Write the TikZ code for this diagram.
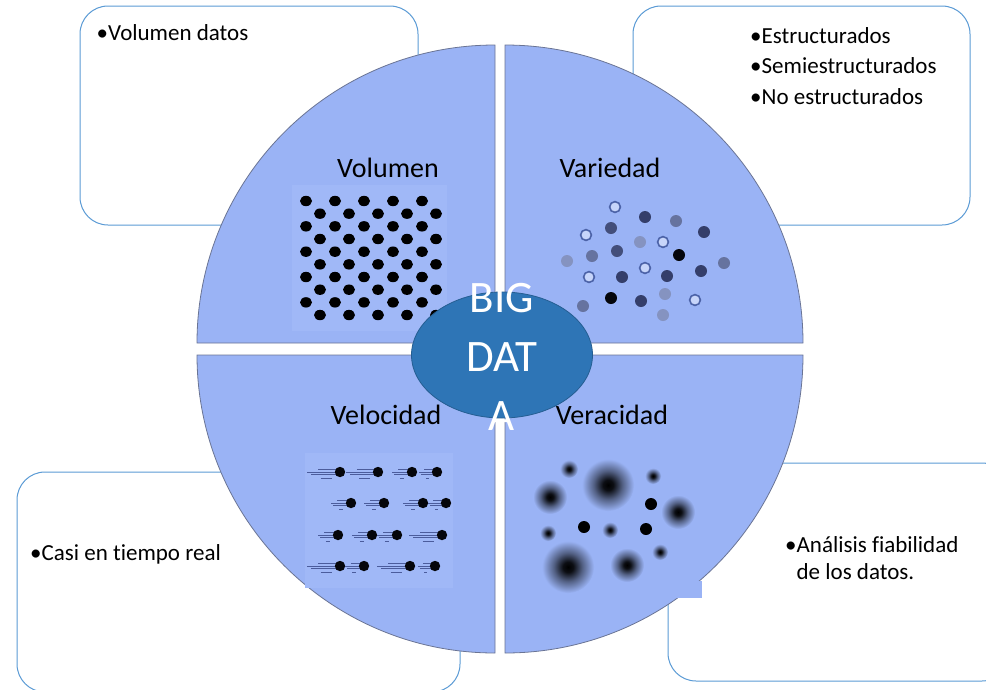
\documentclass[tikz,border=0pt]{standalone}
\usepackage{fontspec}
\setmainfont{Carlito}[Ligatures=NoCommon]
\usetikzlibrary{shapes.geometric,positioning}
\definecolor{quadblue}{HTML}{9AB3F5}
\definecolor{patchblue}{HTML}{A0B8F7}
\definecolor{boxline}{HTML}{5B9BD5}
\definecolor{quadline}{HTML}{6A7494}
\definecolor{bigblue}{HTML}{2E75B6}
\definecolor{ringblue}{HTML}{4C63A8}
\definecolor{darkdot}{HTML}{343E6A}
\definecolor{graydot}{HTML}{66739F}
\definecolor{lightdot}{HTML}{8593C0}
\definecolor{trailblue}{HTML}{4B5C9C}
\pgfdeclareradialshading{blurdot}{\pgfpoint{0bp}{0bp}}{color(0bp)=(black); color(5bp)=(black!92!quadblue); color(14bp)=(black!45!quadblue); color(25bp)=(quadblue); color(50bp)=(quadblue)}

\begin{document}
\begin{tikzpicture}[x=1pt, y=-1pt]
  \tikzset{
    mybox/.style={rectangle, rounded corners=28pt, draw=boxline, fill=white, line width=1pt},
    myquad/.style={fill=quadblue, draw=quadline, line width=0.8pt},
    mylabel/.style={font=\fontsize{28}{34}\selectfont, anchor=base, inner sep=0pt},
    mytext/.style={font=\fontsize{23}{27}\selectfont, anchor=base west, inner sep=0pt},
    ringdot/.style={draw=ringblue, fill=quadblue!55!white, line width=1.6pt},
    mytrail/.style={draw=trailblue, line width=0.8pt}
  }
  \useasboundingbox (0,0) rectangle (986,689);

  % text boxes behind the circle
  \node[mybox, minimum width=338pt, minimum height=219pt] (volbox) at (249,115.5) {};
  \node[mybox, minimum width=337pt, minimum height=219pt] (varbox) at (801.5,115.5) {};
  \node[mybox, minimum width=443pt, minimum height=220pt] (velbox) at (238.5,582) {};
  \node[mybox, minimum width=342pt, minimum height=218pt] (verbox) at (839,572) {};

  \node[mytext] (voltxt) at ([xshift=17pt, yshift=-35pt]volbox.north west) {•Volumen datos};
  \node[mytext] (vartxt1) at (750,43) {•Estructurados};
  \node[mytext] (vartxt2) at ([yshift=-30.5pt]vartxt1.base west) {•Semiestructurados};
  \node[mytext] (vartxt3) at ([yshift=-30.5pt]vartxt2.base west) {•No estructurados};
  \node[mytext] (veltxt) at (30,560) {•Casi en tiempo real};
  \node[mytext] (vertxt1) at (785,552) {•Análisis fiabilidad};
  \node[mytext] (vertxt2) at ([yshift=-27pt]vertxt1.base west) {\phantom{•}de los datos.};

  % four quarters
  \draw[myquad] (495,343) -- ++(-298,0) arc[start angle=180, end angle=270, radius=298] -- cycle;
  \draw[myquad] (505,343) -- ++(298,0) arc[start angle=0, end angle=-90, radius=298] -- cycle;
  \draw[myquad] (495,355) -- ++(-298,0) arc[start angle=180, end angle=90, radius=298] -- cycle;
  \draw[myquad] (505,355) -- ++(298,0) arc[start angle=0, end angle=90, radius=298] -- cycle;
  \fill[quadblue] (650,581) rectangle (702,598);

  % volumen
  \fill[patchblue] (292,185) rectangle (447,331);
  \foreach \r in {0,...,9} {
    \pgfmathsetmacro\yy{201+12.67*\r}
    \pgfmathsetmacro\xx{306+14*mod(\r,2)}
    \foreach \c in {0,...,4}
      \fill (\xx+29*\c,\yy) ellipse[x radius=6, y radius=5.2];
  }

  % variedad
  \foreach \x/\y in {615/207, 586/235, 663/242, 645/268, 589/277, 695/300}
    \draw[ringdot] (\x,\y) circle (5.4);
  \foreach \x/\y in {645/217, 704/232, 667/276, 701/271, 622/277, 641/301}
    \fill[darkdot] (\x,\y) circle (6);
  \foreach \x/\y in {611/228, 617/251}
    \fill[darkdot!70!graydot] (\x,\y) circle (6);
  \foreach \x/\y in {679/255, 611/298}
    \fill[black!90!darkdot] (\x,\y) circle (6);
  \foreach \x/\y in {676/221, 592/256, 724/263, 583/306}
    \fill[graydot] (\x,\y) circle (6);
  \foreach \x/\y in {640/242, 567/261, 665/294, 663/315}
    \fill[lightdot] (\x,\y) circle (6);

  % velocidad
  \fill[patchblue] (305,453) rectangle (453,588);
  \foreach \x/\y/\l in {340/472/28, 378/472/27, 412/472/15, 437/472/13,
                        351/503/15, 384/503/15, 423/503/15, 446/503/13,
                        338/535/15, 372/535/15, 397/535/15, 442/535/28,
                        340/566/28, 364/566/14, 410/566/28, 435/566/12} {
    \draw[mytrail] (\x-5-\l,\y) -- (\x-4,\y);
    \draw[mytrail] (\x-5-0.6*\l,\y-2.6) -- (\x-4,\y-2.6);
    \draw[mytrail] (\x-5-0.85*\l,\y+2.6) -- (\x-4,\y+2.6);
    \draw[mytrail, line width=0.5pt] (\x-4-0.55*\l,\y+6) -- (\x-8,\y+6);
    \fill[black!90!darkdot] (\x,\y) circle (5.2);
  }

  % veracidad
  \foreach \x/\y/\s in {569/469/9, 608/485/26, 653/476/8, 550/497/17, 678/512/17,
                        610/530/8, 548/533/8, 660/552/8, 568/567/26, 627/565/17}
    \shade[shading=blurdot] (\x,\y) circle (\s);
  \foreach \x/\y in {651/504, 584/527, 646/529}
    \fill[black] (\x,\y) circle (6);

  \node[mylabel] (volumen) at (388,177) {Volumen};
  \node[mylabel] (variedad) at (610,177) {Variedad};
  \node[mylabel] (velocidad) at (386,424) {Velocidad};
  \node[mylabel] (veracidad) at (612,424) {Veracidad};

  % centre
  \node[ellipse, fill=bigblue, draw=bigblue!80!black, line width=0.8pt,
        minimum width=181pt, minimum height=126pt] (core) at (502,355) {};
  \node[text=white, font=\fontsize{45}{59}\selectfont, align=center, inner sep=0pt]
        (bigdata) at ([yshift=-2pt]core.center) {BIG\\DAT\\A};
\end{tikzpicture}
\end{document}
